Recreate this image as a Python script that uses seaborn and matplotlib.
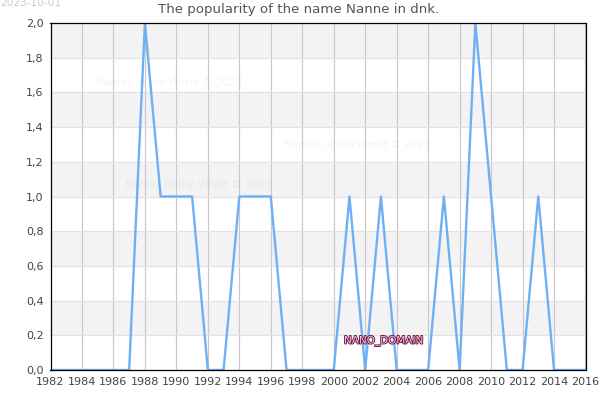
import matplotlib
matplotlib.use("Agg")
import matplotlib.pyplot as plt
import matplotlib.patheffects as pe
import seaborn as sns
import pandas as pd

years = list(range(1982, 2017))
values = [0, 0, 0, 0, 0, 0, 2, 1, 1, 1, 0, 0, 1, 1, 1, 0, 0, 0, 0, 1, 0, 1, 0, 0, 0, 1, 0, 2, 1, 0, 0, 1, 0, 0, 0]
x_ticks = list(range(1982, 2017, 2))
y_ticks = [0.0, 0.2, 0.4, 0.6, 0.8, 1.0, 1.2, 1.4, 1.6, 1.8, 2.0]
y_labels = ["0,0", "0,2", "0,4", "0,6", "0,8", "1,0", "1,2", "1,4", "1,6", "1,8", "2,0"]
title = "The popularity of the name Nanne in dnk."
date_text = "2023-10-01"
watermark = "Names of the World © 2023"
domain = "NANO_DOMAIN"

sns.set_theme(style="white")
plt.rcParams["font.family"] = ["DejaVu Sans"]
W, H = 600, 400
fig = plt.figure(figsize=(6, 4), dpi=100, facecolor="white")
ax = fig.add_axes([50.5 / W, 1 - 370 / H, 535 / W, 347 / H])

for i in range(len(y_ticks) - 1):
    if i % 2 == 1:
        ax.axhspan(y_ticks[i], y_ticks[i + 1], color="#f3f3f3", lw=0, zorder=0)

df = pd.DataFrame({"year": years, "value": values})
sns.lineplot(data=df, x="year", y="value", ax=ax, color="#6eb0f5", lw=1.7, zorder=3, errorbar=None)

ax.set_xlim(1982, 2016)
ax.set_ylim(0, 2)
ax.set_xticks(x_ticks)
ax.set_yticks(y_ticks)
ax.set_yticklabels(y_labels)
ax.set_xlabel("")
ax.set_ylabel("")
ax.grid(axis="x", color="#c8c8c8", lw=0.85, zorder=1)
ax.grid(axis="y", color="#e2e2e2", lw=0.85, zorder=1)
ax.set_axisbelow(True)
ax.tick_params(axis="both", labelsize=8, colors="#444444", length=0, pad=5)
for s in ax.spines.values():
    s.set_color("black")
    s.set_linewidth(0.9)
    s.set_zorder(5)

fig.text(299 / W, 1 - 10 / H, title, ha="center", va="center", fontsize=9.6, color="#555555")
fig.text(0, 1 - 3.5 / H, date_text, ha="left", va="center", fontsize=7.6, color="#cccccc")
for px, py in [(96, 83), (284, 145), (125, 185)]:
    fig.text(px / W, 1 - py / H, watermark, ha="left", va="center", fontsize=7.5,
             color="#0000ff", alpha=0.05, zorder=4)
fig.text(344 / W, 1 - 341 / H, domain, ha="left", va="center", fontsize=7.5,
         color="#f0c8dc", zorder=6,
         path_effects=[pe.withStroke(linewidth=1.3, foreground="#6e1245")])
fig.savefig("out.png", dpi=100, facecolor="white")
